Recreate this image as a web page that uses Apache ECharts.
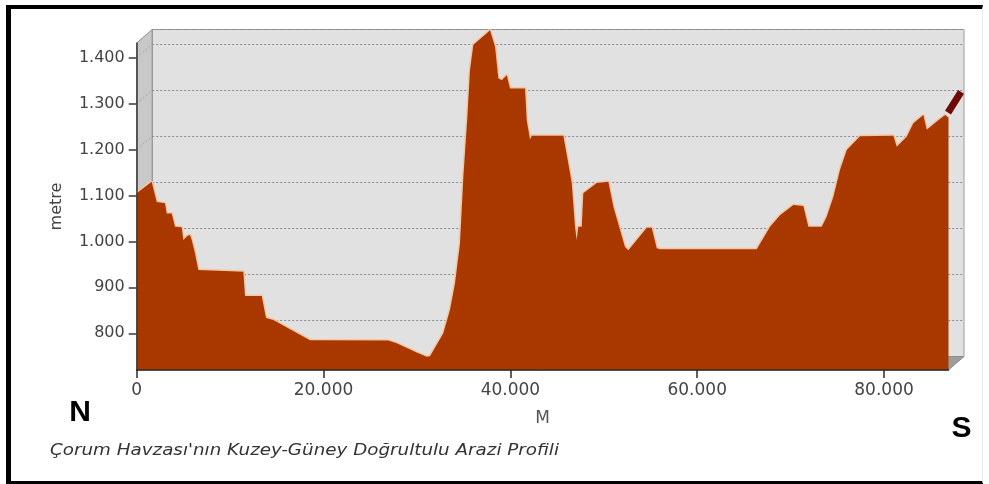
<!DOCTYPE html>
<html>
<head>
<meta charset="utf-8">
<script src="https://cdn.jsdelivr.net/npm/echarts@6/dist/echarts.min.js"></script>
<style>
html,body{margin:0;padding:0;background:#fff;}
#frame{position:absolute;left:6px;top:5px;width:977px;height:479px;box-sizing:border-box;border-left:5px solid #000;border-top:4px solid #000;border-bottom:3px solid #000;border-right:1px solid #ececec;}
#chart{position:absolute;left:0;top:0;width:989px;height:484px;}
</style>
</head>
<body>
<div id="frame"></div>
<div id="chart"></div>
<script>
// ---- data (distance in metres, elevation in metres) ----
const distance = [0, 1606, 2141, 3030, 3212, 3747, 4100, 4817, 4996, 5420, 5706, 5888, 6241, 6597, 6777, 11412, 11594, 13382, 13842, 14624, 18553, 26935, 27834, 29975, 31046, 31399, 32823, 33540, 34075, 34610, 34970, 35400, 35680, 36040, 37470, 37820, 38360, 38710, 39074, 39610, 39960, 41570, 41750, 42100, 42300, 45670, 46200, 46570, 46920, 47100, 47280, 47640, 47810, 49240, 50490, 51020, 52270, 52630, 53530, 54600, 55130, 55670, 56000, 66370, 67800, 68870, 70290, 71360, 71900, 73330, 73870, 74580, 75290, 76010, 77430, 81000, 81360, 82430, 83140, 84210, 84570, 85640, 86530, 86900];
const elevation = [1105, 1130, 1086, 1083, 1061, 1061, 1032, 1031, 1003, 1012, 1014, 1003, 974, 938, 934, 934, 881, 881, 833, 829, 785, 784, 778, 758, 749, 750, 800, 851, 909, 996, 1141, 1272, 1373, 1428, 1453, 1460, 1424, 1355, 1351, 1362, 1333, 1333, 1264, 1222, 1230, 1230, 1170, 1127, 1032, 1003, 1032, 1032, 1105, 1127, 1130, 1076, 988, 981, 1003, 1030, 1030, 985, 983, 983, 1032, 1057, 1079, 1077, 1032, 1032, 1054, 1097, 1156, 1199, 1229, 1230, 1206, 1228, 1257, 1275, 1243, 1261, 1275, 1269];
// highlighted end segment at the south end (read in back-wall coordinates)
const tailDistance = [85190, 86580];
const tailElevation = [1251, 1296];
// tick labels
const yTickValues = [800, 900, 1000, 1100, 1200, 1300, 1400];
const xTickValues = [0, 20000, 40000, 60000, 80000];
const yRange = [720, 1432];
const xRange = [0, 86900];
const yName = 'metre';
const xName = 'M';
const caption = "Çorum Havzası'nın Kuzey-Güney Doğrultulu Arazi Profili";
const northLabel = 'N';
const southLabel = 'S';

// ---- layout / style ----
const FRONT = {l: 136.7, t: 43, r: 948.5, b: 370};
const DEPTH = {dx: 15.5, dy: -13.5};
const BACK = {l: FRONT.l + DEPTH.dx, t: FRONT.t + DEPTH.dy, r: FRONT.r + DEPTH.dx, b: FRONT.b + DEPTH.dy};
const FILL = '#A83800';
const TAIL = '#6e0a06';
const HALO = '#f3c6a4';

function fmt(v) {
  return String(Math.round(v)).replace(/\B(?=(\d{3})+(?!\d))/g, '.');
}
function frontY(v) {
  return FRONT.b - (v - yRange[0]) / (yRange[1] - yRange[0]) * (FRONT.b - FRONT.t);
}

const mainData = distance.map((d, i) => [d, elevation[i]]);
const tailData = tailDistance.map((d, i) => [d, tailElevation[i]]);

const chart = echarts.init(document.getElementById('chart'), null, {renderer: 'canvas'});
const labelFont = 'DejaVu Sans';

// faint dotted lines across the left wall
const wallLines = yTickValues.map(v => ({
  type: 'line', z: 1, silent: true,
  shape: {x1: FRONT.l, y1: frontY(v), x2: BACK.l, y2: frontY(v) + DEPTH.dy},
  style: {stroke: '#a4a4a4', lineWidth: 1, lineDash: [2, 2]}
}));

chart.setOption({
  backgroundColor: 'transparent',
  animation: false,
  grid: [
    { // back wall
      left: BACK.l, top: BACK.t, width: BACK.r - BACK.l, height: BACK.b - BACK.t,
      show: true, backgroundColor: '#e1e1e1', borderColor: '#9c9c9c', borderWidth: 1,
      outerBoundsMode: 'none', containLabel: false
    },
    { // front plane (data)
      left: FRONT.l, top: FRONT.t, width: FRONT.r - FRONT.l, height: FRONT.b - FRONT.t,
      show: false, outerBoundsMode: 'none', containLabel: false
    }
  ],
  xAxis: [
    {gridIndex: 0, type: 'value', min: xRange[0], max: xRange[1], show: false},
    {
      gridIndex: 1, type: 'value', min: xRange[0], max: xRange[1], interval: 20000, z: 6,
      name: xName, nameLocation: 'middle', nameGap: 40,
      nameTextStyle: {fontFamily: labelFont, fontSize: 17, color: '#555'},
      axisLine: {show: true, onZero: false, lineStyle: {color: '#2b2b2b', width: 1.5}},
      axisTick: {show: true, length: 8, lineStyle: {color: '#2b2b2b', width: 1.5}, customValues: xTickValues},
      axisLabel: {
        show: true, margin: 12, fontFamily: labelFont, fontSize: 17, color: '#444',
        customValues: xTickValues,
        formatter: v => xTickValues.includes(v) ? fmt(v) : ''
      },
      splitLine: {show: false}
    }
  ],
  yAxis: [
    {
      gridIndex: 0, type: 'value', min: yRange[0], max: yRange[1],
      axisLine: {show: false}, axisTick: {show: false}, axisLabel: {show: false},
      splitLine: {show: true, lineStyle: {color: '#8a8a8a', type: [2, 2], width: 1}}
    },
    {
      gridIndex: 1, type: 'value', min: yRange[0], max: yRange[1], z: 6,
      name: yName, nameLocation: 'middle', nameGap: 72, nameRotate: 90,
      nameTextStyle: {fontFamily: labelFont, fontSize: 16, color: '#444'},
      axisLine: {show: true, onZero: false, lineStyle: {color: '#3a3a3a', width: 1.5}},
      axisTick: {show: true, length: 8, lineStyle: {color: '#3a3a3a', width: 1.5}, customValues: yTickValues},
      axisLabel: {
        show: true, margin: 12, fontFamily: labelFont, fontSize: 16, color: '#444',
        customValues: yTickValues,
        formatter: v => yTickValues.includes(v) ? fmt(v) : ''
      },
      splitLine: {show: false}
    }
  ],
  graphic: [
    { // left wall
      type: 'polygon', z: 1, silent: true,
      shape: {points: [[FRONT.l, FRONT.t], [BACK.l, BACK.t], [BACK.l, BACK.b], [FRONT.l, FRONT.b]]},
      style: {fill: '#c8c8c8', stroke: '#8c8c8c', lineWidth: 1}
    },
    ...wallLines,
    { // floor
      type: 'polygon', z: 1, silent: true,
      shape: {points: [[FRONT.l, FRONT.b], [FRONT.r, FRONT.b], [BACK.r, BACK.b], [BACK.l, BACK.b]]},
      style: {fill: '#9d9d9d', stroke: '#8c8c8c', lineWidth: 1}
    },
    {
      type: 'text', z: 10, silent: true, x: 80, y: 413,
      style: {text: northLabel, font: 'bold 30px "Liberation Sans"', fill: '#000', align: 'center', verticalAlign: 'middle'}
    },
    {
      type: 'text', z: 10, silent: true, x: 961.5, y: 428.5,
      style: {text: southLabel, font: 'bold 30px "Liberation Sans"', fill: '#000', align: 'center', verticalAlign: 'middle'}
    },
    {
      type: 'text', z: 10, silent: true, x: 50, y: 451, scaleX: 1.22,
      style: {text: caption, font: 'italic 15px "DejaVu Sans"', fill: '#333', align: 'left', verticalAlign: 'middle'}
    }
  ],
  series: [
    { // soft halo along the profile edge
      type: 'line', xAxisIndex: 1, yAxisIndex: 1, data: mainData, z: 2,
      showSymbol: false, symbol: 'none', clip: false, silent: true,
      lineStyle: {color: HALO, width: 3}
    },
    {
      type: 'line', xAxisIndex: 1, yAxisIndex: 1, data: mainData, z: 3,
      showSymbol: false, symbol: 'none', clip: false, silent: true,
      lineStyle: {width: 0, color: FILL},
      areaStyle: {color: FILL, opacity: 1, origin: 'start'}
    },
    { // end segment drawn on the back-wall scale
      type: 'line', xAxisIndex: 0, yAxisIndex: 0, data: tailData, z: 4,
      showSymbol: false, symbol: 'none', clip: false, silent: true,
      lineStyle: {color: TAIL, width: 7, cap: 'butt'}
    }
  ]
});
</script>
</body>
</html>
